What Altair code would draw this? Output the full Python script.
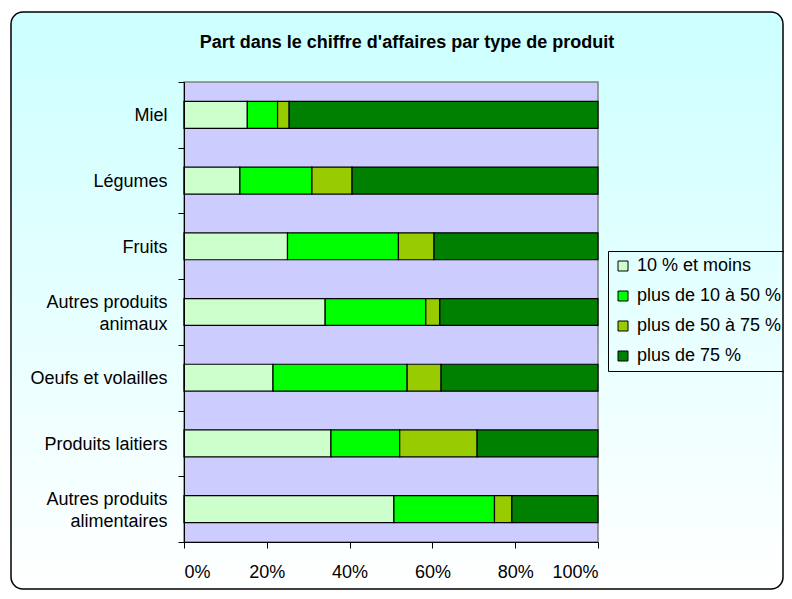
import altair as alt
import pandas as pd

products = ["Miel", "Légumes", "Fruits", "Autres produits animaux",
            "Oeufs et volailles", "Produits laitiers", "Autres produits alimentaires"]
series = ["10 % et moins", "plus de 10 à 50 %", "plus de 50 à 75 %", "plus de 75 %"]
s1 = [15.3, 13.5, 25.0, 34.1, 21.5, 35.5, 50.7]
s2 = [7.3, 17.4, 26.8, 24.3, 32.4, 16.6, 24.3]
s3 = [2.8, 9.7, 8.6, 3.4, 8.2, 18.7, 4.2]
s4 = [74.6, 59.4, 39.6, 38.2, 37.9, 29.2, 20.8]
colors = ["#CCFFCC", "#00FF00", "#99CC00", "#008000"]
x_ticks = [0, 0.2, 0.4, 0.6, 0.8, 1.0]
title_text = "Part dans le chiffre d'affaires par type de produit"

rows = []
for i, vals in enumerate([s1, s2, s3, s4]):
    for p, v in zip(products, vals):
        rows.append({"produit": p, "tranche": series[i], "ordre": i, "part": v})
df = pd.DataFrame(rows)

FONT = "Liberation Sans"
FS = 18
W, H = 414, 460

gradient = alt.Gradient(
    gradient="linear",
    stops=[alt.GradientStop(color="#CCFFFF", offset=0),
           alt.GradientStop(color="#FFFFFF", offset=1)],
    x1=0, x2=0, y1=0, y2=1,
)

frame = alt.Chart(alt.Data(values=[{}])).mark_rect(
    fill=gradient, stroke="black", strokeWidth=1.5, cornerRadius=12
).encode(
    x=alt.value(-173), x2=alt.value(599),
    y=alt.value(-70), y2=alt.value(507),
)

title = alt.Chart(alt.Data(values=[{}])).mark_text(
    text=title_text, font=FONT, fontSize=18, fontWeight="bold", color="black",
    align="center", baseline="middle",
).encode(x=alt.value(223), y=alt.value(-39))

plot_bg = alt.Chart(alt.Data(values=[{}])).mark_rect(
    fill="#CCCCFF", stroke="#808080", strokeWidth=1.5
).encode(
    x=alt.datum(0), x2=alt.datum(1),
)

label_expr = (
    "datum.value == 'Autres produits animaux' ? "
    "['Autres produits', '\\u200b', 'animaux'] : "
    "datum.value == 'Autres produits alimentaires' ? "
    "['Autres produits', '\\u200b', 'alimentaires'] : ['\\u200b', datum.label]"
)

bars = alt.Chart(df).mark_bar(
    stroke="black", strokeWidth=1.2, height=alt.RelativeBandSize(band=0.41)
).encode(
    y=alt.Y("produit:N", sort=products,
            scale=alt.Scale(paddingInner=0, paddingOuter=0),
            axis=alt.Axis(
                title=None, tickBand="extent", tickSize=6, tickColor="black",
                domainColor="black", labelFont=FONT, labelFontSize=FS,
                labelColor="black", labelBaseline="middle", labelLineHeight=11,
                labelOffset=-10,
                labelExpr=label_expr, labelAlign="right", labelPadding=11,
                labelLimit=300, zindex=1,
            )),
    x=alt.X("part:Q", stack="normalize",
            scale=alt.Scale(domain=[0, 1], nice=False),
            axis=alt.Axis(
                title=None, values=x_ticks, format=".0%", tickSize=6,
                tickColor="black", domainColor="black", grid=False,
                labelFont=FONT, labelFontSize=FS, labelColor="black",
                labelPadding=15, zindex=1,
            )),
    color=alt.Color("tranche:N", sort=series,
                    scale=alt.Scale(domain=series, range=colors),
                    legend=alt.Legend(
                        title=None, orient="none", legendX=424, legendY=169,
                        symbolType="square", symbolSize=100,
                        symbolStrokeColor="black", symbolStrokeWidth=1,
                        labelFont=FONT, labelFontSize=FS, labelColor="black",
                        rowPadding=12, padding=6, strokeColor="black",
                        labelOffset=5, labelLimit=300,
                    )),
    order=alt.Order("ordre:Q"),
)

chart = alt.layer(frame, title, plot_bg, bars).properties(
    width=W, height=H,
    autosize=alt.AutoSizeParams(type="none"),
    padding={"left": 176, "top": 74, "right": 186, "bottom": 49},
).configure(background="white").configure_view(stroke=None)

chart.save("out.html", embed_options={"renderer": "svg", "actions": False})
